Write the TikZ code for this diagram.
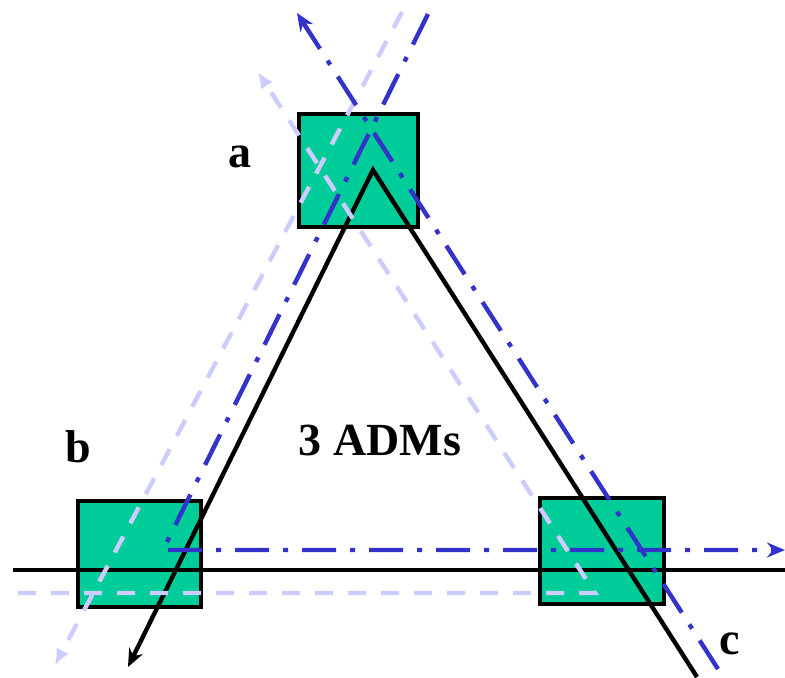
\documentclass[tikz,border=0pt]{standalone}
\usepackage{fontspec}
\setmainfont{Liberation Serif}
\usetikzlibrary{arrows.meta}

\begin{document}
\begin{tikzpicture}[
    x=0.5pt, y=-0.5pt,
    >=Stealth,
]

\definecolor{admCol}{RGB}{0, 204, 153}
\definecolor{workCol}{RGB}{51, 51, 204}
\definecolor{protCol}{RGB}{204, 204, 255}

\tikzset{
    adm_node/.style = {rectangle, draw=black, line width=2.2pt, fill=admCol, inner sep=0pt},
    label_node/.style = {font=\fontsize{23}{27}\selectfont\bfseries, inner sep=0pt},
    fibre/.style = {black, line width=2.2pt},
    working/.style = {workCol, line width=2.2pt, dash pattern=on 17pt off 7pt on 2.5pt off 7pt},
    protect/.style = {protCol, line width=2.2pt, dash pattern=on 9pt off 7.5pt},
    tip_dark/.style = {-{Stealth[length=9pt, width=7.5pt]}},
    tip_light/.style = {-{Latex[length=8pt, width=7pt]}}
}

\useasboundingbox (0,0) rectangle (785,677);

% =========== ADMs ===========
\node[adm_node, minimum width=59.5pt, minimum height=56.5pt] (adm_a) at (358.5,170.5) {};
\node[adm_node, minimum width=61.5pt, minimum height=53pt] (adm_b) at (139.5,554) {};
\node[adm_node, minimum width=61.75pt, minimum height=52.75pt] (adm_c) at (602,551) {};

\node[label_node] (lbl_a) at (240,157) {a};
\node[label_node] (lbl_b) at (78,447) {b};
\node[label_node] (lbl_c) at (730,644) {c};
\node[label_node] (lbl_ring) at (380,440) {3 ADMs};

% =========== FIBRE ===========
\coordinate (ring_w) at (13,570);
\coordinate (ring_e) at (785,570);
\coordinate (fib_start) at (697,677);
\coordinate (fib_top) at (373,170);
\coordinate (fib_end) at (128,667);

\draw[fibre] (ring_w) -- (ring_e);
\draw[fibre, tip_dark] (fib_start) -- (fib_top) -- (fib_end);

% =========== PROTECTION PATHS ===========
\coordinate (p1_start) at (402,12);
\coordinate (p1_end) at (55,665);
\coordinate (p2_start) at (18,593);
\coordinate (p2_turn) at (595,593);
\coordinate (p2_end) at (258,72);

\draw[protect, tip_light] (p1_start) -- (p1_end);
\draw[protect, tip_light] (p2_start) -- (p2_turn) -- (p2_end);

% =========== WORKING PATHS ===========
\coordinate (w1_start) at (428,14);
\coordinate (w1_turn) at (163,550);
\coordinate (w1_end) at (785,550);
\coordinate (w2_start) at (718,669);
\coordinate (w2_end) at (297,13);

\draw[working, tip_dark] (w1_start) -- (w1_turn) -- (w1_end);
\draw[working, tip_dark] (w2_start) -- (w2_end);

\end{tikzpicture}
\end{document}
